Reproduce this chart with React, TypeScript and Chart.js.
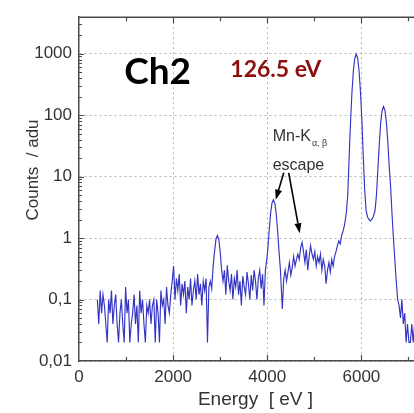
import React, { useEffect, useRef } from "react";
import { Chart, registerables } from "chart.js";

Chart.register(...registerables);

// Energy bins (eV)
const energies = [
  390, 420, 450, 480, 510, 540, 570, 600, 630, 660, 690, 720, 750, 780, 810, 840, 870, 900, 930, 960,
  990, 1020, 1050, 1080, 1110, 1140, 1170, 1200, 1230, 1260, 1290, 1320, 1350, 1380, 1410, 1440, 1470, 1500, 1530, 1560,
  1590, 1620, 1650, 1680, 1710, 1740, 1770, 1800, 1830, 1860, 1890, 1920, 1950, 1980, 2010, 2040, 2070, 2100, 2130, 2160,
  2190, 2220, 2250, 2280, 2310, 2340, 2370, 2400, 2430, 2460, 2490, 2520, 2550, 2580, 2610, 2640, 2670, 2700, 2730, 2760,
  2790, 2820, 2850, 2880, 2910, 2940, 2970, 3000, 3030, 3060, 3090, 3120, 3150, 3180, 3210, 3240, 3270, 3300, 3330, 3360,
  3390, 3420, 3450, 3480, 3510, 3540, 3570, 3600, 3630, 3660, 3690, 3720, 3750, 3780, 3810, 3840, 3870, 3900, 3930, 3960,
  3990, 4010, 4040, 4070, 4100, 4130, 4160, 4190, 4220, 4250, 4280, 4320, 4350, 4380, 4410, 4440, 4470, 4500, 4530, 4560,
  4590, 4620, 4650, 4680, 4710, 4740, 4770, 4800, 4830, 4860, 4890, 4920, 4950, 4980, 5010, 5040, 5070, 5100, 5130, 5160,
  5190, 5220, 5250, 5280, 5310, 5340, 5370, 5400, 5430, 5460, 5490, 5520, 5550, 5580, 5610, 5640, 5680, 5710, 5740, 5770,
  5800, 5830, 5860, 5890, 5920, 5950, 5980, 6010, 6040, 6070, 6100, 6130, 6160, 6190, 6220, 6250, 6290, 6320, 6350, 6380,
  6410, 6440, 6470, 6500, 6530, 6560, 6590, 6620, 6650, 6680, 6710, 6740, 6770, 6800, 6830, 6860, 6890, 6920, 6950, 6980,
  7010, 7040, 7070, 7100, 7130, 7160,
];

// Counts / adu per bin
const counts = [
  0.1, 0.04, 0.14, 0.06, 0.12, 0.08, 0.04, 0.02, 0.1, 0.06, 0.14, 0.04, 0.08, 0.12, 0.04, 0.02, 0.06, 0.1, 0.04, 0.02,
  0.16, 0.06, 0.1, 0.02, 0.04, 0.06, 0.12, 0.04, 0.08, 0.02, 0.14, 0.06, 0.1, 0.04, 0.02, 0.08, 0.06, 0.1, 0.04, 0.08,
  0.1, 0.02, 0.1, 0.06, 0.02, 0.14, 0.08, 0.1, 0.04, 0.16, 0.08, 0.06, 0.12, 0.2, 0.35, 0.1, 0.22, 0.14, 0.26, 0.08,
  0.18, 0.12, 0.2, 0.06, 0.16, 0.1, 0.22, 0.08, 0.14, 0.2, 0.1, 0.26, 0.12, 0.18, 0.08, 0.2, 0.14, 0.22, 0.02, 0.16,
  0.2, 0.15, 0.35, 0.6, 0.95, 1.1, 0.95, 0.6, 0.3, 0.2, 0.3, 0.12, 0.36, 0.2, 0.14, 0.26, 0.1, 0.22, 0.16, 0.3,
  0.12, 0.2, 0.08, 0.24, 0.16, 0.12, 0.28, 0.18, 0.1, 0.25, 0.14, 0.3, 0.2, 0.1, 0.22, 0.3, 0.15, 0.26, 0.08, 0.3,
  0.45, 0.64, 1.3, 2.5, 3.7, 4.2, 3.7, 2.5, 1.3, 0.6, 0.3, 0.07, 0.22, 0.3, 0.2, 0.28, 0.4, 0.25, 0.33, 0.5,
  0.35, 0.45, 0.55, 0.45, 0.7, 0.85, 0.6, 0.4, 0.65, 0.3, 0.5, 0.75, 0.55, 0.45, 0.6, 0.35, 0.5, 0.4, 0.55, 0.3,
  0.45, 0.35, 0.18, 0.3, 0.4, 0.28, 0.45, 0.35, 0.5, 0.6, 0.75, 0.9, 0.8, 1.1, 1.3, 1.6, 2.6, 5, 21, 80,
  240, 530, 840, 980, 840, 530, 240, 83, 21, 6, 2.8, 2.2, 2.0, 1.9, 2.0, 2.2, 2.8, 5, 13, 34,
  74, 118, 138, 120, 78, 38, 15, 7, 2.5, 1.0, 0.45, 0.2, 0.1, 0.08, 0.05, 0.1, 0.04, 0.06, 0.02, 0.04,
  0.02, 0.02, 0.04, 0.02, 0.04, 0.02,
];

const yTickValues = [0.01, 0.1, 1, 10, 100, 1000];
const xTickValues = [0, 1000, 2000, 3000, 4000, 5000, 6000, 7000];
const xLabelled = [0, 2000, 4000, 6000];

const FONT = '"Liberation Sans", Arial, Helvetica, sans-serif';
const TEXT = "#333333";
const AXIS = "#4a4a4a";
const GRID = "#b5b5b5";

const decorPlugin = {
  id: "decor",
  afterDraw(chart: any) {
    const { ctx, chartArea, scales } = chart;
    const { left, right, top, bottom } = chartArea;
    const xs = scales.x;
    const ys = scales.y;
    ctx.save();

    // top frame line
    ctx.strokeStyle = AXIS;
    ctx.lineWidth = 1.5;
    ctx.beginPath();
    ctx.moveTo(left, top);
    ctx.lineTo(right, top);
    ctx.stroke();

    // inward x ticks (bottom & top)
    ctx.lineWidth = 1.2;
    for (const v of xTickValues) {
      if (v <= xs.min || v >= xs.max) continue;
      const px = Math.round(xs.getPixelForValue(v)) + 0.5;
      const len = v % 2000 === 0 ? 6 : 4;
      ctx.beginPath();
      ctx.moveTo(px, bottom);
      ctx.lineTo(px, bottom - len);
      ctx.moveTo(px, top);
      ctx.lineTo(px, top + len);
      ctx.stroke();
    }

    // inward y ticks (major + minor)
    ctx.lineWidth = 1;
    for (const d of yTickValues) {
      for (let k = 1; k <= 9; k++) {
        const v = d * k;
        if (v <= ys.min || v > ys.max) continue;
        const py = Math.round(ys.getPixelForValue(v)) + 0.5;
        const len = k === 1 ? 5 : 3;
        ctx.beginPath();
        ctx.moveTo(left, py);
        ctx.lineTo(left + len, py);
        ctx.stroke();
      }
    }

    // y axis title
    ctx.save();
    ctx.translate(33, 170);
    ctx.rotate(-Math.PI / 2);
    ctx.font = `17px ${FONT}`;
    ctx.fillStyle = TEXT;
    ctx.textAlign = "center";
    ctx.textBaseline = "middle";
    ctx.fillText("Counts  / adu", 0, 0);
    ctx.restore();

    const px = (e: number) => xs.getPixelForValue(e);
    const py = (c: number) => ys.getPixelForValue(c);

    // "Ch2"
    ctx.fillStyle = "#000000";
    ctx.font = `bold 37px Lato, "Open Sans", sans-serif`;
    ctx.textAlign = "left";
    ctx.textBaseline = "alphabetic";
    ctx.fillText("Ch2", px(960), py(320));

    // resolution
    ctx.fillStyle = "#8b0f0f";
    ctx.font = `bold 23px Lato, "Open Sans", sans-serif`;
    ctx.fillText("126.5 eV", px(3215), py(414));

    // Mn-K escape label
    ctx.fillStyle = TEXT;
    ctx.font = `16px ${FONT}`;
    ctx.fillText("Mn-K", px(4115), py(38));
    const wMnK = ctx.measureText("Mn-K").width;
    ctx.font = `9px ${FONT}`;
    ctx.fillText("α, β", px(4115) + wMnK + 1, py(38) + 5);
    ctx.font = `16px ${FONT}`;
    ctx.fillText("escape", px(4115), py(13));

    // arrows
    const arrow = (e0: number, c0: number, e1: number, c1: number) => {
      const x0 = px(e0), y0 = py(c0), x1 = px(e1), y1 = py(c1);
      const ang = Math.atan2(y1 - y0, x1 - x0);
      const hl = 10, hw = 3.5;
      const bx = x1 - hl * Math.cos(ang);
      const by = y1 - hl * Math.sin(ang);
      ctx.strokeStyle = "#000000";
      ctx.fillStyle = "#000000";
      ctx.lineWidth = 1.6;
      ctx.beginPath();
      ctx.moveTo(x0, y0);
      ctx.lineTo(bx, by);
      ctx.stroke();
      ctx.beginPath();
      ctx.moveTo(x1, y1);
      ctx.lineTo(bx + hw * Math.sin(ang), by - hw * Math.cos(ang));
      ctx.lineTo(bx - hw * Math.sin(ang), by + hw * Math.cos(ang));
      ctx.closePath();
      ctx.fill();
    };
    arrow(4350, 11.5, 4180, 4.2);
    arrow(4455, 11.5, 4690, 1.2);

    ctx.restore();
  },
};

export default function App() {
  const canvasRef = useRef<HTMLCanvasElement | null>(null);

  useEffect(() => {
    const canvas = canvasRef.current;
    if (!canvas) return;
    const points = energies.map((e, i) => ({ x: e, y: counts[i] }));
    const chart = new Chart(canvas, {
      type: "line",
      data: {
        datasets: [
          {
            data: points,
            borderColor: "#3434c4",
            borderWidth: 1.15,
            pointRadius: 0,
            tension: 0,
            fill: false,
          },
        ],
      },
      options: {
        animation: false,
        responsive: false,
        maintainAspectRatio: false,
        layout: { padding: { top: 11, right: 2, left: 0, bottom: 0 } },
        plugins: {
          legend: { display: false },
          tooltip: { enabled: false },
        },
        scales: {
          x: {
            type: "linear",
            min: 0,
            max: 7500,
            afterBuildTicks: (s: any) => {
              s.ticks = xTickValues.map((v) => ({ value: v }));
            },
            afterFit: (s: any) => {
              s.height = 52;
            },
            ticks: {
              autoSkip: false,
              maxRotation: 0,
              padding: 6,
              color: TEXT,
              font: { family: FONT, size: 17 },
              callback: (v: any) => (xLabelled.includes(Number(v)) ? String(v) : ""),
            },
            grid: {
              drawTicks: false,
              color: (c: any) =>
                c.tick && xLabelled.includes(c.tick.value) && c.tick.value > 0 ? GRID : "rgba(0,0,0,0)",
            },
            border: { display: true, color: AXIS, width: 1.5, dash: [2, 3] },
            title: {
              display: true,
              text: "Energy  [ eV ]",
              color: TEXT,
              font: { family: FONT, size: 19 },
              padding: { top: 0, bottom: 2 },
            },
          },
          y: {
            type: "logarithmic",
            min: 0.01,
            max: 3900,
            afterBuildTicks: (s: any) => {
              s.ticks = yTickValues.map((v) => ({ value: v }));
            },
            afterFit: (s: any) => {
              s.width = 79;
            },
            ticks: {
              autoSkip: false,
              padding: 7,
              color: TEXT,
              font: { family: FONT, size: 17 },
              callback: (v: any) => {
                const n = Number(v);
                return n >= 1 ? String(n) : String(n).replace(".", ",");
              },
            },
            grid: { drawTicks: false, color: GRID },
            border: { display: true, color: AXIS, width: 1.5, dash: [2, 3] },
          },
        },
      },
      plugins: [decorPlugin],
    } as any);
    return () => chart.destroy();
  }, []);

  return (
    <div
      style={{
        position: "absolute",
        left: 0,
        top: 0,
        width: 414,
        height: 413,
        overflow: "hidden",
        background: "#ffffff",
      }}
    >
      <canvas ref={canvasRef} width={434} height={413} style={{ display: "block", width: 434, height: 413 }} />
    </div>
  );
}
